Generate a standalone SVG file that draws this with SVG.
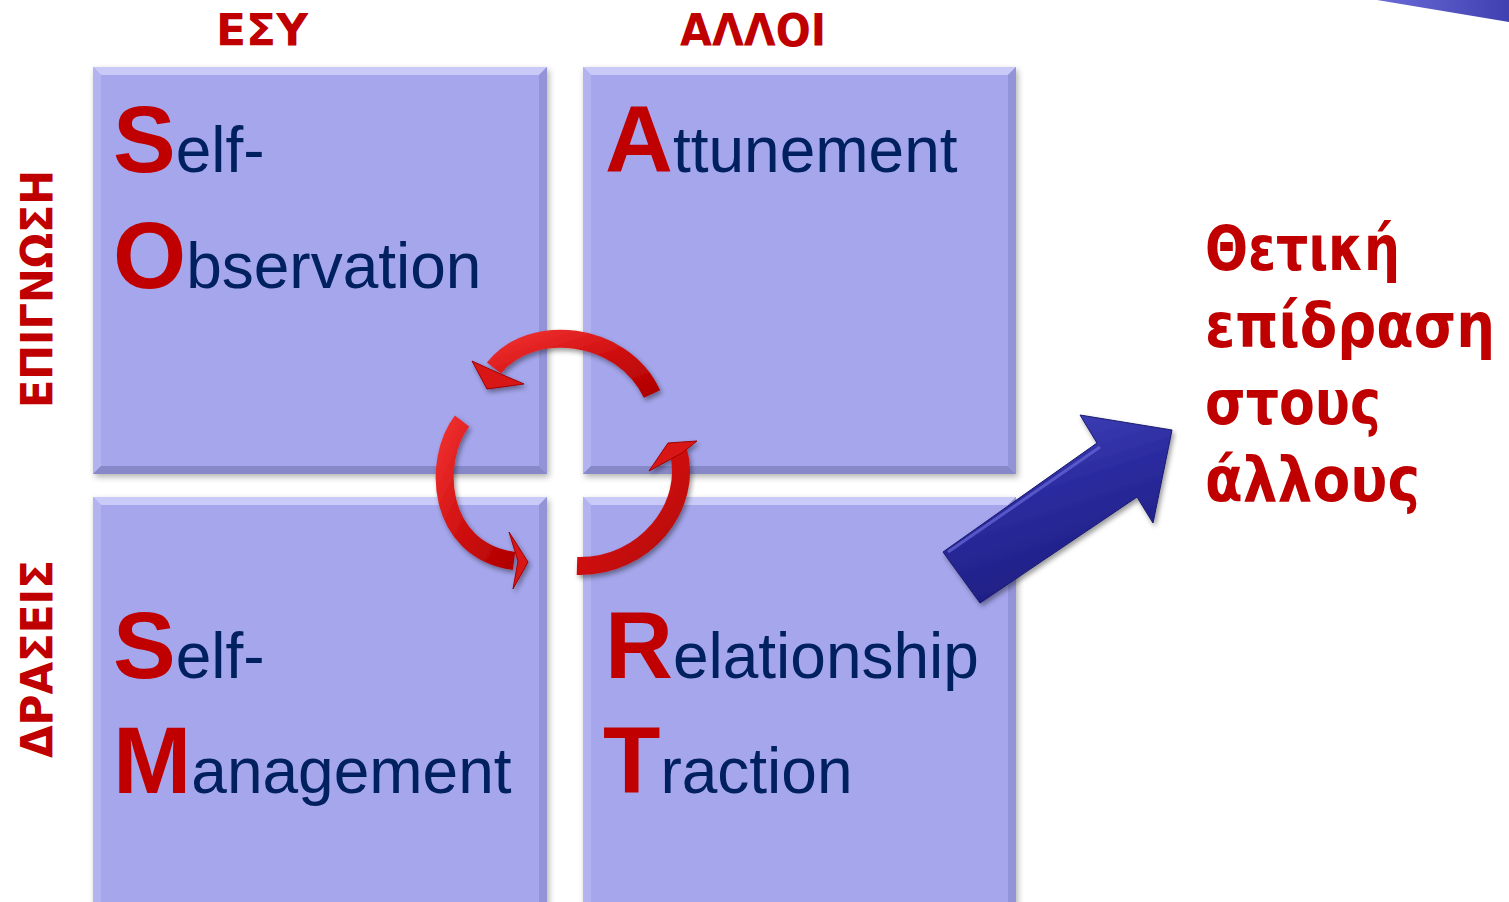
<svg xmlns="http://www.w3.org/2000/svg" width="1509" height="902" viewBox="0 0 1509 902">
<style>
.box{fill:#a5a6ec;}
.hl{fill:#c9caf7;}
.hl2{fill:#b3b4ef;}
.dk{fill:#9394d8;}
.dk2{fill:#8788c8;}
.big{font-family:"Liberation Sans",Arial,sans-serif;font-weight:bold;font-size:94px;fill:#c00000;}
.sm{font-family:"Liberation Sans",Arial,sans-serif;font-size:64px;fill:#002060;}
.hd{font-family:"DejaVu Sans Condensed","DejaVu Sans",sans-serif;font-weight:bold;font-size:45px;fill:#c00000;}
.rt{font-family:"DejaVu Sans","Noto Sans",sans-serif;font-weight:bold;font-size:63px;fill:#c00000;}
.arc{fill:none;stroke:url(#redg);stroke-width:18;stroke-linecap:butt;}
.head{fill:#d81818;stroke:#a00000;stroke-width:1;}
</style>
<defs>
<filter id="sh" x="-5%" y="-5%" width="115%" height="115%">
<feDropShadow dx="2" dy="3" stdDeviation="3" flood-color="#000" flood-opacity="0.3"/>
</filter>
<filter id="sh2" x="-10%" y="-10%" width="130%" height="130%">
<feDropShadow dx="2" dy="3" stdDeviation="2.5" flood-color="#000" flood-opacity="0.4"/>
</filter>
<linearGradient id="redg" x1="0" y1="0" x2="1" y2="1">
<stop offset="0" stop-color="#f03030"/>
<stop offset="0.5" stop-color="#d01010"/>
<stop offset="1" stop-color="#b00000"/>
</linearGradient>
<linearGradient id="blueg" x1="0" y1="0" x2="0.4" y2="1">
<stop offset="0" stop-color="#4848c0"/>
<stop offset="0.5" stop-color="#2c2ca0"/>
<stop offset="1" stop-color="#1c1c80"/>
</linearGradient>
<linearGradient id="blueg2" x1="0" y1="0" x2="1" y2="0">
<stop offset="0" stop-color="#6a6ad8"/>
<stop offset="1" stop-color="#4040b0"/>
</linearGradient>
</defs>

<rect x="0" y="0" width="1509" height="902" fill="#ffffff"/>

<g id="corner-shape">
<polygon points="1377,0 1509,0 1509,22" fill="url(#blueg2)"/>
</g>

<g id="heading-esy"><text class="hd" x="262" y="46" text-anchor="middle" textLength="92" lengthAdjust="spacingAndGlyphs">ΕΣΥ</text></g>
<g id="heading-alloi"><text class="hd" x="753" y="46" text-anchor="middle" textLength="146" lengthAdjust="spacingAndGlyphs">ΑΛΛΟΙ</text></g>
<g id="label-epignosi"><text class="hd" x="53" y="289" font-size="48" text-anchor="middle" textLength="238" lengthAdjust="spacingAndGlyphs" transform="rotate(-90 53 289)">ΕΠΙΓΝΩΣΗ</text></g>
<g id="label-draseis"><text class="hd" x="53" y="659" font-size="48" text-anchor="middle" textLength="198" lengthAdjust="spacingAndGlyphs" transform="rotate(-90 53 659)">ΔΡΑΣΕΙΣ</text></g>

<g id="box-self-observation">
<rect class="box" x="93" y="67" width="454" height="407" filter="url(#sh)"/>
<polygon class="hl" points="93,67 547,67 539,75 101,75"/>
<polygon class="hl2" points="93,67 101,75 101,466 93,474"/>
<polygon class="dk" points="547,67 547,474 539,466 539,75"/>
<polygon class="dk2" points="93,474 547,474 539,466 101,466"/>
<text x="113" y="172"><tspan class="big">S</tspan><tspan class="sm">elf-</tspan></text>
<text x="113" y="288"><tspan class="big">O</tspan><tspan class="sm">bservation</tspan></text>
</g>

<g id="box-attunement">
<rect class="box" x="583" y="67" width="433" height="407" filter="url(#sh)"/>
<polygon class="hl" points="583,67 1016,67 1008,75 591,75"/>
<polygon class="hl2" points="583,67 591,75 591,466 583,474"/>
<polygon class="dk" points="1016,67 1016,474 1008,466 1008,75"/>
<polygon class="dk2" points="583,474 1016,474 1008,466 591,466"/>
<text x="605" y="172"><tspan class="big">A</tspan><tspan class="sm">ttunement</tspan></text>
</g>

<g id="box-self-management">
<rect class="box" x="93" y="497" width="454" height="420" filter="url(#sh)"/>
<polygon class="hl" points="93,497 547,497 539,505 101,505"/>
<polygon class="hl2" points="93,497 101,505 101,917 93,917"/>
<polygon class="dk" points="547,497 547,917 539,917 539,505"/>
<text x="113" y="678"><tspan class="big">S</tspan><tspan class="sm">elf-</tspan></text>
<text x="113" y="793"><tspan class="big">M</tspan><tspan class="sm">anagement</tspan></text>
</g>

<g id="box-relationship-traction">
<rect class="box" x="583" y="497" width="433" height="420" filter="url(#sh)"/>
<polygon class="hl" points="583,497 1016,497 1008,505 591,505"/>
<polygon class="hl2" points="583,497 591,505 591,917 583,917"/>
<polygon class="dk" points="1016,497 1016,917 1008,917 1008,505"/>
<text x="605" y="678"><tspan class="big">R</tspan><tspan class="sm">elationship</tspan></text>
<text x="603" y="793"><tspan class="big">T</tspan><tspan class="sm">raction</tspan></text>
</g>

<g id="connectors">
<g id="cycle" filter="url(#sh2)">
<path class="arc" d="M652,394 C622,330 530,322 494,368"/>
<polygon class="head" points="472,361 496,372 524,384 487,389"/>
<path class="arc" d="M462,421 C432,460 436,550 514,561"/>
<polygon class="head" points="509,532 528,562 513,589 518,561"/>
<path class="arc" d="M577,566 C645,568 694,505 678,450"/>
<polygon class="head" points="649,471 668,443 697,441 682,453"/>
</g>
<g id="big-arrow" filter="url(#sh2)">
<polygon points="943,552 1097,443 1080,415 1172,430 1153,523 1137,497 980,603" fill="url(#blueg)" stroke="#1a1a70" stroke-width="1"/>
<polyline points="948,552 1100,447" fill="none" stroke="#6a6ad8" stroke-width="3" opacity="0.7"/>
</g>
</g>

<g id="outcome-text">
<text class="rt" x="1205" y="270" textLength="195" lengthAdjust="spacingAndGlyphs">Θετική</text>
<text class="rt" x="1205" y="347" textLength="290" lengthAdjust="spacingAndGlyphs">επίδραση</text>
<text class="rt" x="1205" y="424" textLength="176" lengthAdjust="spacingAndGlyphs">στους</text>
<text class="rt" x="1205" y="501" textLength="215" lengthAdjust="spacingAndGlyphs">άλλους</text>
</g>
</svg>
